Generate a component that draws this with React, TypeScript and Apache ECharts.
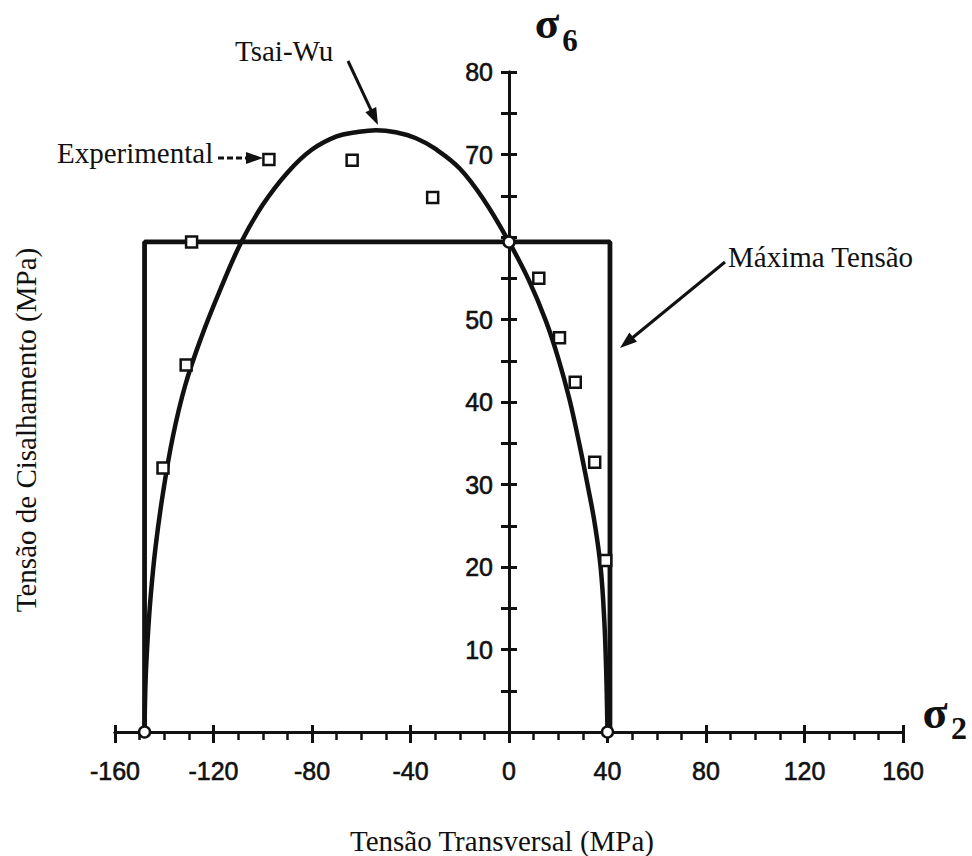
import React, { useEffect, useRef } from "react";
import * as echarts from "echarts";

// Tsai-Wu failure envelope (σ2, σ6) in MPa
const tsaiWuSigma2 = [-148, -147.6, -146.8, -145.5, -143.5, -140.5, -136.5, -131.5, -125, -117, -108.7, -100, -90, -80, -70, -62, -54, -46, -38, -30, -20, -10, 0, 8, 15, 20, 24.5, 28.5, 32, 34.8, 37.2, 38.7, 39.5, 40];
const tsaiWuSigma6 = [0, 6, 11, 16.5, 22.5, 29, 35.8, 42, 47.8, 53.8, 59.4, 63.9, 67.8, 70.6, 72.2, 72.7, 72.95, 72.7, 72.0, 70.7, 68.3, 64.4, 59.4, 54.8, 49.8, 45.3, 40.4, 35, 29.8, 25.3, 20, 13.5, 7, 0];

// Experimental failure points
const experimentalSigma2 = [-97.5, -63.7, -31.0, -128.9, -131.1, -140.5, 12.1, 20.5, 26.9, 34.8, 39.3];
const experimentalSigma6 = [69.4, 69.3, 64.8, 59.4, 44.5, 32.0, 55.0, 47.8, 42.4, 32.7, 20.8];

// Maximum stress criterion envelope
const maxStressSigma2 = [-148, -148, 41, 41];
const maxStressSigma6 = [0, 59.4, 59.4, 0];

// Uniaxial / pure shear strengths (open circles)
const strengthSigma2 = [-148, 40, 0];
const strengthSigma6 = [0, 0, 59.4];

// Axis scales
const sigma2Min = -160;
const sigma2Max = 160;
const sigma2Step = 40;
const sigma6Min = 0;
const sigma6Max = 80;
const sigma6Step = 5;
const hiddenSigma6Labels = [0, 60];

const INK = "#111";
const SERIF = "'Liberation Serif', 'Times New Roman', serif";
const SANS = "'Liberation Sans', Arial, sans-serif";

const GRID = { left: 115, right: 69, top: 72, bottom: 124 };
const CHART_W = 972;
const CHART_H = 856;

const zip = (xs: number[], ys: number[]) => xs.map((x, i) => [x, ys[i]]);

function arrow(x1: number, y1: number, x2: number, y2: number, dashed = false) {
  const dx = x2 - x1;
  const dy = y2 - y1;
  const len = Math.hypot(dx, dy);
  const ux = dx / len;
  const uy = dy / len;
  const headLen = 17;
  const headHalf = 6;
  const bx = x2 - ux * headLen;
  const by = y2 - uy * headLen;
  const px = -uy;
  const py = ux;
  return [
    {
      type: "line",
      shape: { x1, y1, x2: bx + ux * 2, y2: by + uy * 2 },
      style: { stroke: INK, lineWidth: 3, lineDash: dashed ? [6, 3] : null },
    },
    {
      type: "polygon",
      shape: {
        points: [
          [x2, y2],
          [bx + px * headHalf, by + py * headHalf],
          [bx - px * headHalf, by - py * headHalf],
        ],
      },
      style: { fill: INK },
    },
  ];
}

function serifText(text: string, x: number, y: number, extra: any = {}) {
  return {
    type: "text",
    x,
    y,
    ...extra,
    style: {
      text,
      fill: INK,
      font: `29px ${SERIF}`,
      align: extra.align || "left",
      verticalAlign: "middle",
    },
  };
}

export default function App() {
  const ref = useRef<HTMLDivElement>(null);

  useEffect(() => {
    if (!ref.current) return;
    const chart = echarts.init(ref.current, undefined, { renderer: "svg" });

    const lineStyle = { color: INK, width: 3 };
    const tickStyle = { color: INK, width: 3 };
    const tickLabel = {
      fontSize: 25,
      fontFamily: SANS,
      color: INK,
      textBorderColor: INK,
      textBorderWidth: 0.6,
    };

    // the σ6 axis sits on σ2 = 0, inside the plotting area
    const gridWidth = CHART_W - GRID.left - GRID.right;
    const yAxisOffset = -((0 - sigma2Min) / (sigma2Max - sigma2Min)) * gridWidth;

    const baseX = {
      type: "value",
      min: sigma2Min,
      max: sigma2Max,
      interval: sigma2Step,
      position: "bottom",
      splitLine: { show: false },
      minorSplitLine: { show: false },
    };
    const baseY = {
      type: "value",
      min: sigma6Min,
      max: sigma6Max,
      interval: sigma6Step,
      position: "left",
      offset: yAxisOffset,
      splitLine: { show: false },
    };

    chart.setOption({
      animation: false,
      backgroundColor: "#fff",
      grid: GRID,
      xAxis: [
        {
          ...baseX,
          axisLine: { show: true, onZero: false, lineStyle },
          axisTick: { show: true, length: 11, lineStyle: tickStyle },
          minorTick: { show: true, splitNumber: 4, length: 8, lineStyle: { color: INK, width: 2.5 } },
          axisLabel: { margin: 26, ...tickLabel },
        },
        {
          ...baseX,
          axisLine: { show: true, onZero: false, lineStyle },
          axisTick: { show: true, inside: true, length: 7, lineStyle: tickStyle },
          axisLabel: { show: false },
        },
      ],
      yAxis: [
        {
          ...baseY,
          axisLine: { show: true, onZero: false, lineStyle },
          axisTick: { show: true, length: 8, lineStyle: tickStyle },
          axisLabel: {
            margin: 16,
            ...tickLabel,
            formatter: (v: number) =>
              v % 10 === 0 && !hiddenSigma6Labels.includes(v) ? String(v) : "",
          },
        },
        {
          ...baseY,
          axisLine: { show: true, onZero: false, lineStyle },
          axisTick: { show: true, inside: true, length: 8, lineStyle: tickStyle },
          axisLabel: { show: false },
        },
      ],
      series: [
        {
          name: "Máxima Tensão",
          type: "line",
          data: zip(maxStressSigma2, maxStressSigma6),
          symbol: "none",
          lineStyle: { color: INK, width: 4.8 },
          z: 3,
        },
        {
          name: "Tsai-Wu",
          type: "line",
          data: zip(tsaiWuSigma2, tsaiWuSigma6),
          smooth: 0.4,
          symbol: "none",
          lineStyle: { color: INK, width: 4.5 },
          z: 4,
        },
        {
          name: "Experimental",
          type: "scatter",
          data: zip(experimentalSigma2, experimentalSigma6),
          symbol: "rect",
          symbolSize: 11,
          itemStyle: { color: "#ffffff", borderColor: INK, borderWidth: 2.5, opacity: 1 },
          z: 6,
        },
        {
          name: "Resistências",
          type: "scatter",
          data: zip(strengthSigma2, strengthSigma6),
          symbol: "circle",
          symbolSize: 11,
          itemStyle: { color: "#ffffff", borderColor: INK, borderWidth: 2.5, opacity: 1 },
          z: 6,
        },
      ],
      graphic: [
        // axis symbols
        { type: "text", x: 547, y: 23, style: { text: "σ", fill: INK, font: `bold 45px ${SERIF}`, align: "center", verticalAlign: "middle" } },
        { type: "text", x: 570, y: 40, style: { text: "6", fill: INK, font: `bold 31px ${SERIF}`, align: "center", verticalAlign: "middle" } },
        { type: "text", x: 935, y: 712, style: { text: "σ", fill: INK, font: `bold 46px ${SERIF}`, align: "center", verticalAlign: "middle" } },
        { type: "text", x: 959, y: 728, style: { text: "2", fill: INK, font: `bold 32px ${SERIF}`, align: "center", verticalAlign: "middle" } },
        // annotations
        serifText("Tsai-Wu", 235, 51),
        ...arrow(348, 61, 378, 125),
        serifText("Experimental", 57, 153),
        ...arrow(218, 158, 263, 158, true),
        serifText("Máxima Tensão", 728, 257),
        ...arrow(725, 262, 620, 348),
        // axis titles
        serifText("Tensão Transversal (MPa)", 502, 841, { align: "center" }),
        serifText("Tensão de Cisalhamento (MPa)", 26, 430, { align: "center", rotation: Math.PI / 2 }),
      ],
    });

    return () => chart.dispose();
  }, []);

  return (
    <div
      ref={ref}
      style={{ position: "fixed", left: 0, top: 0, width: CHART_W, height: CHART_H, background: "#fff" }}
    />
  );
}
